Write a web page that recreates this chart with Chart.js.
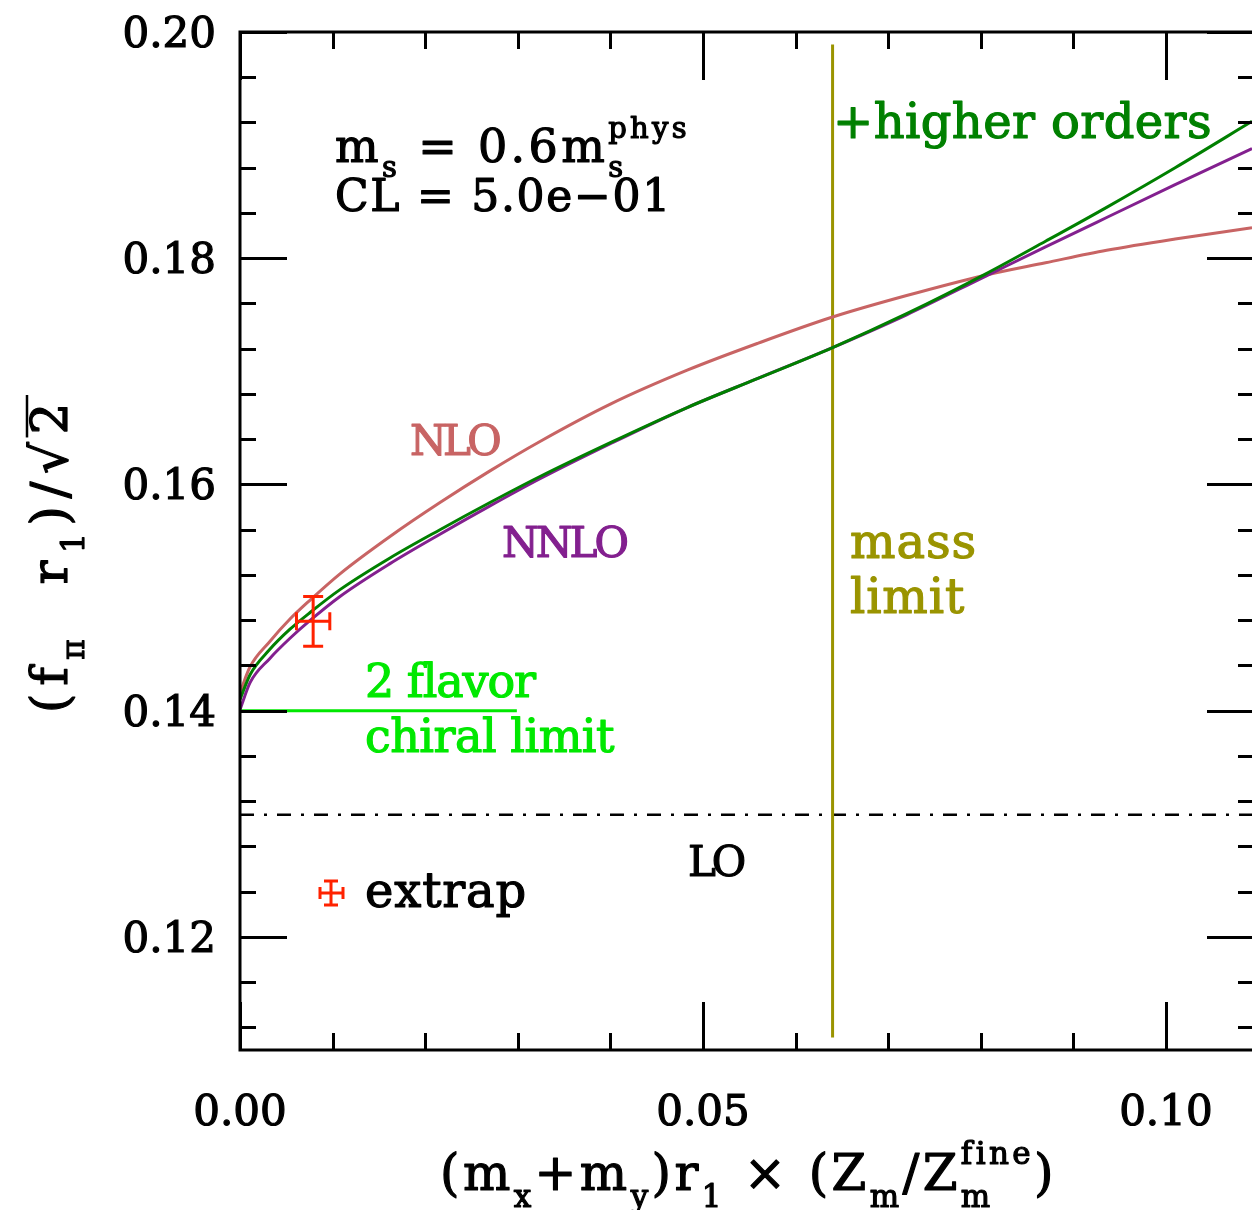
<!DOCTYPE html>
<html>
<head>
<meta charset="utf-8">
<script src="https://cdn.jsdelivr.net/npm/chart.js@4.4.1/dist/chart.umd.min.js"></script>
<style>
html, body { margin: 0; padding: 0; background: #fff; }
canvas { display: block; }
</style>
</head>
<body>
<canvas id="plot" width="1252" height="1210"></canvas>
<script>
// (m_x+m_y) r1 sample points shared by the three fit curves
var massX = [0, 0.0011, 0.0032, 0.0054, 0.0076, 0.0108, 0.0162, 0.0216, 0.0270, 0.0324,
             0.0400, 0.0483, 0.0560, 0.0640, 0.0720, 0.0805, 0.0870, 0.0936, 0.1010, 0.1093];
var nloY = [0.1416, 0.1439, 0.1461, 0.1481, 0.1498, 0.1521, 0.1554, 0.1584, 0.1612, 0.1638,
            0.1671, 0.1701, 0.1725, 0.1748, 0.1767, 0.1785, 0.1796, 0.1807, 0.1817, 0.1827];
var nnloY = [0.1401, 0.1425, 0.1446, 0.1464, 0.1480, 0.1501, 0.1530, 0.1556, 0.1581, 0.1605,
             0.1636, 0.1668, 0.1694, 0.1721, 0.1750, 0.1784, 0.1810, 0.1836, 0.1865, 0.1897];
var higherY = [0.1410, 0.1432, 0.1454, 0.1472, 0.1487, 0.1507, 0.1535, 0.1560, 0.1584, 0.1607,
               0.1637, 0.1668, 0.1694, 0.1721, 0.1751, 0.1786, 0.1815, 0.1845, 0.1880, 0.1921];

// reference lines
var massLimitX = [0.0640, 0.0640];
var massLimitY = [0.1111, 0.1989];
var chiralX = [0, 0.0299];
var chiralY = [0.1400, 0.1400];
var loX = [0, 0.1093];
var loY = [0.1308, 0.1308];

// extrapolated point with errors
var extrapX = [0.0079];
var extrapY = [0.1479];
var extrapXErr = [0.0018];
var extrapYErr = [0.0022];

// axes
var xRange = [0, 0.1093];
var yRange = [0.11, 0.20];
var xMajorTicks = [0, 0.05, 0.10];
var xTickLabels = ['0.00', '0.05', '0.10'];
var xMinorStep = 0.01;
var yMajorTicks = [0.12, 0.14, 0.16, 0.18, 0.20];
var yTickLabels = ['0.12', '0.14', '0.16', '0.18', '0.20'];
var yMinorStep = 0.004;

var FACE = '"DejaVu Serif"';
var RED = '#ff2200';
var SALMON = '#c86464';
var PURPLE = '#83208f';
var GREEN = '#008000';
var LIME = '#00e800';
var OLIVE = '#9a9400';

function pts(xs, ys) {
  return xs.map(function (x, i) { return { x: x, y: ys[i] }; });
}

// filled glyph with a thin outline so strokes come out a bit heavier
function heavyText(ctx, s, x, y) {
  ctx.fillText(s, x, y);
  ctx.strokeText(s, x, y);
}

// text with sub/superscripts, spaced out to a given width
function richText(ctx, parts, x, y, size, width, color) {
  var small = Math.round(size * 0.62);
  function run(str, s, sp) {
    ctx.font = s + 'px ' + FACE;
    var t = 0;
    for (var ch of str) t += ctx.measureText(ch).width + sp;
    return t;
  }
  function partW(p, sp) {
    if (typeof p === 'string') return run(p, size, sp);
    return Math.max(p.sub ? run(p.sub, small, sp) : 0, p.sup ? run(p.sup, small, sp) : 0);
  }
  function total(sp) {
    return parts.reduce(function (a, p) { return a + partW(p, sp); }, 0);
  }
  var nat = total(0);
  var count = total(1) - nat;
  var sp = width ? (width - nat) / count : 0;
  function draw(str, s, cx, cy) {
    ctx.font = s + 'px ' + FACE;
    for (var ch of str) {
      heavyText(ctx, ch, cx, cy);
      cx += ctx.measureText(ch).width + sp;
    }
  }
  ctx.fillStyle = color;
  ctx.strokeStyle = color;
  ctx.lineWidth = 1.2;
  ctx.lineJoin = 'round';
  ctx.textBaseline = 'alphabetic';
  ctx.textAlign = 'left';
  var cx = x, starts = [];
  parts.forEach(function (p) {
    starts.push(cx);
    if (typeof p === 'string') {
      draw(p, size, cx, y);
    } else {
      if (p.sub) draw(p.sub, small, cx, y + size * 0.33);
      if (p.sup) draw(p.sup, small, cx, y - size * 0.52);
    }
    cx += partW(p, sp);
  });
  starts.push(cx);
  return starts;
}

function errorCross(ctx, cx, x0, x1, cy, y0, y1, capW, capH) {
  ctx.beginPath();
  ctx.moveTo(x0, cy); ctx.lineTo(x1, cy);
  ctx.moveTo(x0, cy - capH); ctx.lineTo(x0, cy + capH);
  ctx.moveTo(x1, cy - capH); ctx.lineTo(x1, cy + capH);
  ctx.moveTo(cx, y0); ctx.lineTo(cx, y1);
  ctx.moveTo(cx - capW, y0); ctx.lineTo(cx + capW, y0);
  ctx.moveTo(cx - capW, y1); ctx.lineTo(cx + capW, y1);
  ctx.stroke();
}

var framePlugin = {
  id: 'frame',
  afterDatasetsDraw: function (chart) {
    var ctx = chart.ctx;
    var a = chart.chartArea;
    var xs = chart.scales.x, ys = chart.scales.y;
    var right = a.right + 2;
    ctx.save();
    ctx.strokeStyle = '#000';
    ctx.lineWidth = 3;
    ctx.lineCap = 'butt';
    ctx.beginPath();
    ctx.moveTo(right, a.top); ctx.lineTo(a.left, a.top);
    ctx.lineTo(a.left, a.bottom); ctx.lineTo(right, a.bottom);
    ctx.lineTo(right, a.top);
    ctx.stroke();

    // ticks on all four sides
    ctx.beginPath();
    var v, px, len;
    for (v = xRange[0]; v <= xRange[1] + 1e-9; v += xMinorStep) {
      px = Math.round(xs.getPixelForValue(v)) + 0.5;
      len = Math.abs(v / 0.05 - Math.round(v / 0.05)) < 1e-6 ? 48 : 17;
      ctx.moveTo(px, a.bottom); ctx.lineTo(px, a.bottom - len);
      ctx.moveTo(px, a.top); ctx.lineTo(px, a.top + len);
    }
    for (v = yRange[1]; v >= yRange[0] - 1e-9; v -= yMinorStep) {
      px = Math.round(ys.getPixelForValue(v)) + 0.5;
      len = Math.abs(v / 0.02 - Math.round(v / 0.02)) < 1e-6 ? 47 : 16;
      ctx.moveTo(a.left, px); ctx.lineTo(a.left + len, px);
      ctx.moveTo(right, px); ctx.lineTo(right - len, px);
    }
    ctx.stroke();

    // tick labels
    ctx.fillStyle = '#000';
    ctx.lineWidth = 1.2;
    ctx.font = '42px ' + FACE;
    ctx.textBaseline = 'alphabetic';
    ctx.textAlign = 'right';
    yMajorTicks.forEach(function (t, i) {
      heavyText(ctx, yTickLabels[i], 216, ys.getPixelForValue(t) + 15);
    });
    ctx.textAlign = 'center';
    xMajorTicks.forEach(function (t, i) {
      heavyText(ctx, xTickLabels[i], xs.getPixelForValue(t), 1125);
    });

    // axis titles
    richText(ctx, ['(m', { sub: 'x' }, '+m', { sub: 'y' }, ')r', { sub: '1' }, ' × (Z', { sub: 'm' },
      '/Z', { sub: 'm', sup: 'fine' }, ')'], 440, 1190, 50, 617, '#000');
    ctx.save();
    ctx.translate(67, 713);
    ctx.rotate(-Math.PI / 2);
    var st = richText(ctx, ['(f', { sub: 'π' }, '  r', { sub: '1' }, ')/', '√', '2'], 0, 0, 50, 318, '#000');
    ctx.strokeStyle = '#000';
    ctx.lineWidth = 2.5;
    ctx.beginPath();
    ctx.moveTo(st[6] - 3, -40);
    ctx.lineTo(st[7], -40);
    ctx.stroke();
    ctx.restore();

    // extrapolated point
    ctx.strokeStyle = RED;
    ctx.lineWidth = 3;
    var cx = xs.getPixelForValue(extrapX[0]), cy = ys.getPixelForValue(extrapY[0]);
    errorCross(ctx, cx,
      xs.getPixelForValue(extrapX[0] - extrapXErr[0]), xs.getPixelForValue(extrapX[0] + extrapXErr[0]),
      cy,
      ys.getPixelForValue(extrapY[0] + extrapYErr[0]), ys.getPixelForValue(extrapY[0] - extrapYErr[0]),
      10, 9);
    // key symbol
    errorCross(ctx, 331, 320, 343, 893, 881, 905, 7, 6);

    // annotations
    richText(ctx, ['m', { sub: 's' }, ' = 0.6m', { sub: 's', sup: 'phys' }], 335, 162, 46, 355, '#000');
    richText(ctx, ['CL = 5.0e−01'], 335, 211, 44, 337, '#000');
    richText(ctx, ['+higher orders'], 833, 138, 48, 379, GREEN);
    richText(ctx, ['NLO'], 410, 455, 42, 88, SALMON);
    richText(ctx, ['NNLO'], 502, 557, 42, 124, PURPLE);
    richText(ctx, ['mass'], 850, 558, 48, 127, OLIVE);
    richText(ctx, ['limit'], 850, 613, 48, 115, OLIVE);
    richText(ctx, ['2 flavor'], 365, 697, 46, 170, LIME);
    richText(ctx, ['chiral limit'], 365, 752, 46, 249, LIME);
    richText(ctx, ['LO'], 688, 876, 42, 54, '#000');
    richText(ctx, ['extrap'], 365, 907, 48, 162, '#000');
    ctx.restore();
  }
};

function curve(data, color, order, extra) {
  var ds = {
    data: data,
    showLine: true,
    borderColor: color,
    borderWidth: 3,
    pointRadius: 0,
    fill: false,
    order: order,
    cubicInterpolationMode: 'monotone'
  };
  return Object.assign(ds, extra || {});
}

new Chart(document.getElementById('plot'), {
  type: 'scatter',
  data: {
    datasets: [
      curve(pts(massX, higherY), GREEN, 0),
      curve(pts(massX, nnloY), PURPLE, 1),
      curve(pts(massX, nloY), SALMON, 2),
      curve(pts(massLimitX, massLimitY), OLIVE, 3, { cubicInterpolationMode: 'default' }),
      curve(pts(chiralX, chiralY), LIME, 4, { cubicInterpolationMode: 'default' }),
      curve(pts(loX, loY), '#000', 5, { borderWidth: 2.5, borderDash: [14, 10, 3, 10], cubicInterpolationMode: 'default' })
    ]
  },
  options: {
    responsive: false,
    animation: false,
    devicePixelRatio: 1,
    layout: { padding: { left: 240, top: 32, right: 0, bottom: 160 } },
    plugins: { legend: { display: false }, tooltip: { enabled: false } },
    scales: {
      x: { type: 'linear', min: xRange[0], max: xRange[1], display: false },
      y: { type: 'linear', min: yRange[0], max: yRange[1], display: false }
    }
  },
  plugins: [framePlugin]
});
</script>
</body>
</html>
